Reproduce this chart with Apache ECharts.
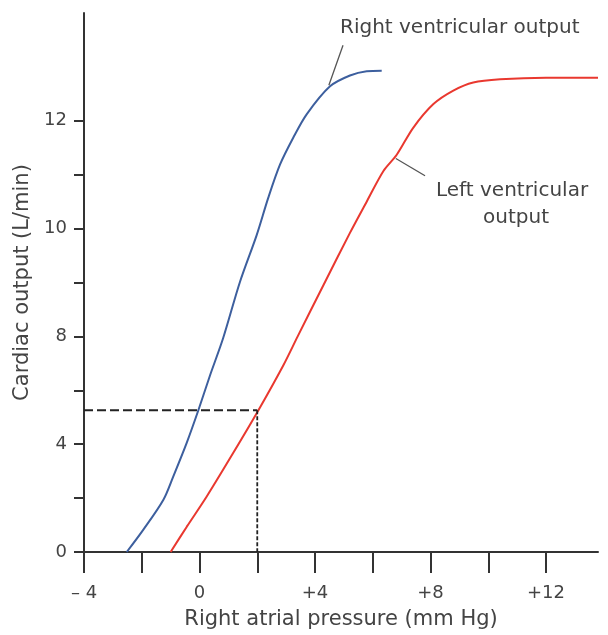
<!DOCTYPE html>
<html>
<head>
<meta charset="utf-8">
<script src="https://cdn.jsdelivr.net/npm/echarts@6/dist/echarts.min.js"></script>
<style>html,body{margin:0;padding:0;background:#fff}#c{width:608px;height:635px}</style>
</head>
<body>
<div id="c"></div>
<script>
// X values in mm Hg; Y values in axis tick units (each tick step = 1)
const xTickValues = [-4, -2, 0, 2, 4, 6, 8, 10, 12];
const xLabelValues = [-4, 0, 4, 8, 12];
const xLabelText = {"-4": "\u2013 4", "0": "0", "4": "+4", "8": "+8", "12": "+12"};
const yTickValues = [0, 1, 2, 3, 4, 5, 6, 7, 8];
const yLabelValues = [0, 2, 4, 6, 8];
const yLabelText = ["0", "4", "8", "10", "12"];

const rightX = [-2.52, -1.95, -1.25, -0.91, -0.44, -0.04, 0.36, 0.82, 1.40, 1.98, 2.38, 2.79, 3.25, 3.71, 4.52, 5.21, 5.79, 6.31];
const rightY = [0, 0.41, 0.97, 1.40, 2.03, 2.63, 3.27, 3.97, 5.01, 5.88, 6.57, 7.19, 7.69, 8.12, 8.64, 8.84, 8.92, 8.93];

const leftX = [-1.0, -0.44, 0.25, 1.17, 2.04, 2.90, 3.40, 4.29, 5.21, 5.79, 6.37, 6.83, 7.40, 8.10, 8.79, 9.48, 10.41, 12.0, 13.8];
const leftY = [0, 0.47, 1.03, 1.84, 2.63, 3.46, 4.0, 4.95, 5.92, 6.5, 7.07, 7.37, 7.87, 8.31, 8.56, 8.71, 8.77, 8.8, 8.8];

const refHX = [-4, 2];
const refHY = [2.63, 2.63];
const refVX = [2, 2];
const refVY = [2.63, 0];

const rightPointerX = [4.97, 4.48];
const rightPointerY = [9.40, 8.66];
const leftPointerX = [7.81, 6.80];
const leftPointerY = [6.98, 7.30];

const zip = (xs, ys) => xs.map((x, i) => [x, ys[i]]);
const FONT = 'DejaVu Sans';
const TXT = '#444';
const AX = '#333';

const chart = echarts.init(document.getElementById('c'), null, {renderer: 'canvas'});
chart.setOption({
  animation: false,
  backgroundColor: '#fff',
  grid: {left: 84, right: 10, top: 13, bottom: 83, containLabel: false},
  xAxis: {
    type: 'value', min: -4, max: 13.8,
    name: 'Right atrial pressure (mm Hg)', nameLocation: 'middle', nameGap: 57,
    nameTextStyle: {fontFamily: FONT, fontSize: 21, color: TXT},
    axisLine: {lineStyle: {color: AX, width: 2}},
    axisTick: {customValues: xTickValues, length: 21, lineStyle: {color: AX, width: 2}},
    axisLabel: {customValues: xLabelValues, margin: 32, fontFamily: FONT, fontSize: 18, color: TXT,
      formatter: v => xLabelText[String(v)] || ''},
    splitLine: {show: false}
  },
  yAxis: {
    type: 'value', min: 0, max: 10,
    name: 'Cardiac output (L/min)', nameLocation: 'middle', nameGap: 49,
    nameTextStyle: {fontFamily: FONT, fontSize: 21, color: TXT},
    axisLine: {show: true, onZero: false, lineStyle: {color: AX, width: 2}},
    axisTick: {show: true, customValues: yTickValues, length: 10, lineStyle: {color: AX, width: 2}},
    axisLabel: {customValues: yLabelValues, margin: 17, fontFamily: FONT, fontSize: 18, color: TXT,
      formatter: v => yLabelText[yLabelValues.indexOf(v)] || ''},
    splitLine: {show: false}
  },
  graphic: [
    {type: 'line', shape: {x1: 74, y1: 552, x2: 85, y2: 552}, style: {stroke: AX, lineWidth: 2}},
    {type: 'text', left: 340, top: 18, style: {text: 'Right ventricular output', font: '20px "DejaVu Sans"', fill: TXT}},
    {type: 'text', left: 436, top: 181, style: {text: 'Left ventricular', font: '20px "DejaVu Sans"', fill: TXT}},
    {type: 'text', left: 483, top: 208, style: {text: 'output', font: '20px "DejaVu Sans"', fill: TXT}}
  ],
  series: [
    {type: 'line', data: zip(rightX, rightY), smooth: 0.3, showSymbol: false, lineStyle: {color: '#3d5f9e', width: 2}},
    {type: 'line', data: zip(leftX, leftY), smooth: 0.3, showSymbol: false, lineStyle: {color: '#e9382f', width: 2}},
    {type: 'line', data: zip(refHX, refHY), showSymbol: false, lineStyle: {color: '#222', width: 1.8, type: [9, 4]}},
    {type: 'line', data: zip(refVX, refVY), showSymbol: false, lineStyle: {color: '#222', width: 1.8, type: [4, 2]}},
    {type: 'line', data: zip(rightPointerX, rightPointerY), showSymbol: false, lineStyle: {color: '#555', width: 1.3}},
    {type: 'line', data: zip(leftPointerX, leftPointerY), showSymbol: false, lineStyle: {color: '#555', width: 1.3}}
  ]
});
</script>
</body>
</html>
